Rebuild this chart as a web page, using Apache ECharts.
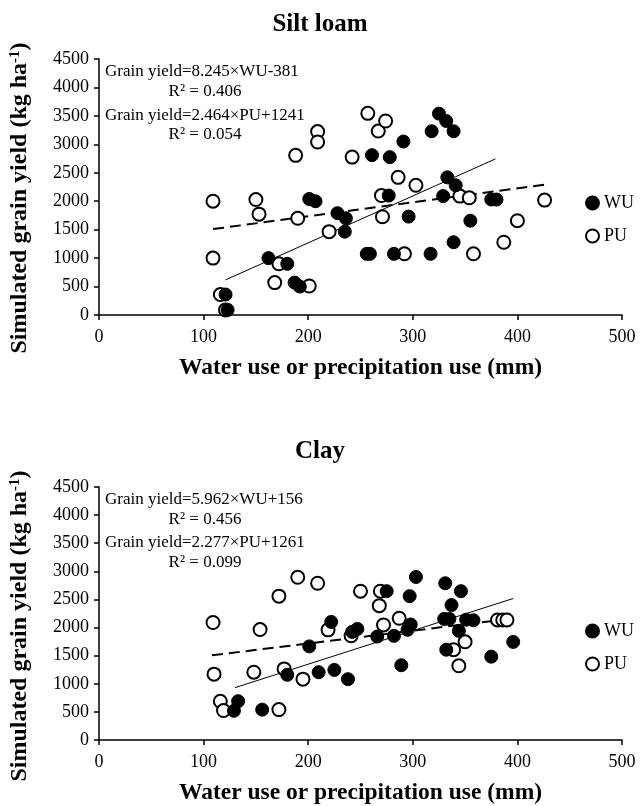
<!DOCTYPE html>
<html><head><meta charset="utf-8">
<script src="https://cdn.jsdelivr.net/npm/echarts@6/dist/echarts.min.js"></script>
<style>html,body{margin:0;padding:0;background:#fff}#c{width:640px;height:806px}</style>
</head><body><div id="c"></div>
<script>
const panelTitles = ['Silt loam', 'Clay'];
const xAxisTitle = 'Water use or precipitation use (mm)';
const yAxisTitle = '{a|Simulated grain yield (kg ha}{s|-1}{a|)}';
const seriesNames = ['WU', 'PU'];
const xTicks = [0, 100, 200, 300, 400, 500];
const yTicks = [0, 500, 1000, 1500, 2000, 2500, 3000, 3500, 4000, 4500];

// Silt loam
const siltWU = [[121,360],[123,90],[162,1000],[180,900],[187,570],[192,500],[201,2040],[207,2000],
  [228,1790],[236,1700],[235,1465],[256,1075],[259,1075],[277,2100],[296,1730],[282,1075],[317,1075],
  [261,2810],[278,2775],[291,3050],[325,3540],[332,3410],[318,3230],[339,3230],[333,2420],[341,2280],
  [329,2090],[375,2030],[380,2030],[355,1657],[339,1279]];
const siltPU = [[109,2000],[109,1000],[150,2030],[153,1773],[190,1700],[220,1465],[116,360],[121,90],
  [172,900],[168,570],[201,510],[270,2100],[271,1727],[286,2420],[303,2280],[292,1076],[188,2806],
  [209,3224],[209,3041],[242,2776],[257,3545],[267,3234],[274,3410],[345,2090],[354,2060],[400,1657],
  [387,1279],[358,1076],[426,2020]];
const siltWUfit = [[121,617],[379,2744]];
const siltPUfit = [[109,1510],[426,2291]];
const siltEq = ['Grain yield=8.245×WU-381', 'R² = 0.406', 'Grain yield=2.464×PU+1241', 'R² = 0.054'];

// Clay
const clayWU = [[129,520],[133,690],[156,540],[180,1160],[201,1665],[210,1206],[222,2100],[225,1247],
  [238,1082],[242,1923],[247,1976],[266,1840],[275,2647],[282,1853],[289,1330],[295,1960],[298,2055],
  [297,2559],[303,2900],[331,2788],[346,2647],[337,2400],[330,2153],[335,2153],[351,2140],[358,2130],
  [344,1941],[332,1606],[396,1745],[375,1482]];
const clayPU = [[109,2090],[110,1171],[116,688],[119,524],[148,1206],[154,1965],[172,2559],[172,541],
  [177,1265],[190,2894],[195,1082],[209,2788],[219,1959],[241,1853],[250,2647],[269,2647],[268,2390],
  [272,2047],[287,2165],[339,1606],[350,1747],[344,1320],[381,2135],[386,2135],[390,2135]];
const clayWUfit = [[130,931],[396,2517]];
const clayPUfit = [[108,1507],[390,2149]];
const clayEq = ['Grain yield=5.962×WU+156', 'R² = 0.456', 'Grain yield=2.277×PU+1261', 'R² = 0.099'];

const FONT = '"Liberation Serif", "Times New Roman", serif';
const chart = echarts.init(document.getElementById('c'), null, {renderer: 'canvas'});

const grids = [
  {left: 99, top: 59, width: 523, height: 256},
  {left: 99, top: 487, width: 523, height: 255}
];
const titleY = [25, 452];
const yTitleY = [198, 626];
const eqTop = [[72, 92, 116, 135], [500, 520, 543, 563]];
const legendTop = [194, 622];

function xAxis(i) {
  return {
    gridIndex: i, type: 'value', min: 0, max: 500, interval: 100,
    name: xAxisTitle, nameLocation: 'middle', nameGap: 41,
    nameTextStyle: {fontFamily: FONT, fontWeight: 'bold', fontSize: 23.5, color: '#000'},
    axisLine: {lineStyle: {color: '#000', width: 1.5}},
    axisTick: {show: true, inside: false, length: 5, lineStyle: {color: '#000', width: 1.5}},
    axisLabel: {fontFamily: FONT, fontSize: 18, color: '#000', margin: 13, formatter: v => String(v)},
    splitLine: {show: false}
  };
}
function yAxis(i) {
  return {
    gridIndex: i, type: 'value', min: 0, max: 4500, interval: 500,
    axisLine: {show: true, lineStyle: {color: '#000', width: 1.5}},
    axisTick: {show: true, inside: false, length: 5, lineStyle: {color: '#000', width: 1.5}},
    axisLabel: {fontFamily: FONT, fontSize: 18, color: '#000', margin: 10, formatter: v => String(v)},
    splitLine: {show: false}
  };
}

const panels = [
  {wu: siltWU, pu: siltPU, wuFit: siltWUfit, puFit: siltPUfit, eq: siltEq},
  {wu: clayWU, pu: clayPU, wuFit: clayWUfit, puFit: clayPUfit, eq: clayEq}
];

const series = [];
const graphic = [];
const legends = [];
panels.forEach((p, i) => {
  series.push({type: 'line', xAxisIndex: i, yAxisIndex: i, data: p.wuFit, symbol: 'none', silent: true,
    lineStyle: {color: '#000', width: 1}, z: 1});
  series.push({type: 'line', xAxisIndex: i, yAxisIndex: i, data: p.puFit, symbol: 'none', silent: true,
    lineStyle: {color: '#000', width: 2, type: [11, 6]}, z: 1});
  series.push({name: seriesNames[1], type: 'scatter', xAxisIndex: i, yAxisIndex: i, data: p.pu, symbol: 'circle', symbolSize: 13,
    itemStyle: {color: '#fff', borderColor: '#000', borderWidth: 2, opacity: 1}, z: 3});
  series.push({name: seriesNames[0], type: 'scatter', xAxisIndex: i, yAxisIndex: i, data: p.wu, symbol: 'circle', symbolSize: 13,
    itemStyle: {color: '#000', borderColor: '#000', borderWidth: 1, opacity: 1}, z: 4});
  graphic.push({type: 'text', x: 320, y: titleY[i], style: {text: panelTitles[i], font: 'bold 25px ' + FONT, fill: '#000', textAlign: 'center', textVerticalAlign: 'middle', align: 'center', verticalAlign: 'middle'}});
  graphic.push({type: 'text', x: 20, y: yTitleY[i], rotation: Math.PI / 2,
    style: {text: yAxisTitle, fill: '#000', textAlign: 'center', textVerticalAlign: 'middle', align: 'center', verticalAlign: 'middle',
      rich: {
        a: {fontFamily: FONT, fontWeight: 'bold', fontSize: 24, fill: '#000', color: '#000'},
        s: {fontFamily: FONT, fontWeight: 'bold', fontSize: 15, fill: '#000', color: '#000', verticalAlign: 'top', padding: [0, 0, 9, 0]}
      }}});
  p.eq.forEach((t, k) => {
    const centered = k % 2 === 1;
    graphic.push({type: 'text', x: centered ? 205 : 105, y: eqTop[i][k],
      style: {text: t, font: '17px ' + FONT, fill: '#000', textAlign: centered ? 'center' : 'left', align: centered ? 'center' : 'left', textVerticalAlign: 'middle', verticalAlign: 'middle'}});
  });
  legends.push({
    orient: 'vertical', left: 585, top: legendTop[i], itemGap: 15, itemWidth: 13, itemHeight: 13,
    data: [{name: seriesNames[0], icon: 'circle', itemStyle: {color: '#000', borderColor: '#000', opacity: 1}},
           {name: seriesNames[1], icon: 'circle', itemStyle: {color: '#fff', borderColor: '#000', borderWidth: 2, opacity: 1}}],
    textStyle: {fontFamily: FONT, fontSize: 18, color: '#000'}, selectedMode: false, padding: 0
  });
});

chart.setOption({
  backgroundColor: '#fff',
  animation: false,
  grid: grids,
  xAxis: [xAxis(0), xAxis(1)],
  yAxis: [yAxis(0), yAxis(1)],
  legend: legends,
  graphic: graphic,
  series: series
});
</script></body></html>
